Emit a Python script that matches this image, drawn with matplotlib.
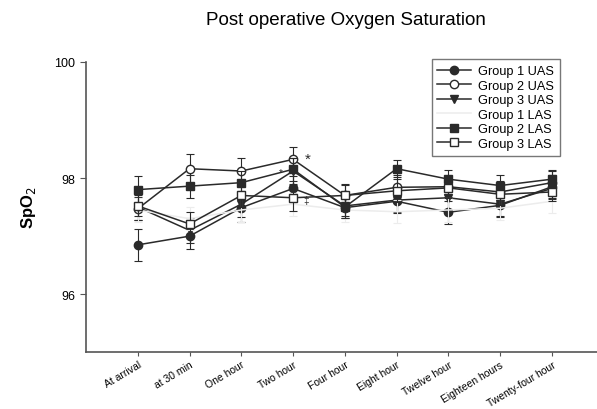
import matplotlib.pyplot as plt

# time points
labels = ['At arrival', 'at 30 min', 'One hour', 'Two hour', 'Four hour',
          'Eight hour', 'Twelve hour', 'Eighteen hours', 'Twenty-four hour']

# mean SpO2 per group
g1_uas = [96.85, 97.00, 97.49, 97.82, 97.49, 97.60, 97.41, 97.53, 97.85]
g2_uas = [97.47, 98.16, 98.12, 98.32, 97.70, 97.84, 97.85, 97.76, 97.92]
g3_uas = [97.50, 97.10, 97.55, 98.12, 97.52, 97.62, 97.66, 97.55, 97.82]
g1_las = [97.45, 97.30, 97.45, 97.55, 97.45, 97.42, 97.45, 97.48, 97.60]
g2_las = [97.80, 97.86, 97.92, 98.15, 97.50, 98.16, 97.98, 97.87, 97.98]
g3_las = [97.52, 97.21, 97.70, 97.66, 97.70, 97.78, 97.83, 97.72, 97.76]

# SD (error bars)
g1_uas_sd = [0.27, 0.22, 0.25, 0.22, 0.18, 0.20, 0.20, 0.20, 0.20]
g2_uas_sd = [0.20, 0.25, 0.22, 0.22, 0.20, 0.22, 0.18, 0.18, 0.20]
g3_uas_sd = [0.22, 0.22, 0.22, 0.22, 0.18, 0.20, 0.20, 0.20, 0.18]
g1_las_sd = [0.20, 0.20, 0.20, 0.20, 0.20, 0.20, 0.20, 0.20, 0.20]
g2_las_sd = [0.23, 0.20, 0.20, 0.20, 0.18, 0.15, 0.15, 0.18, 0.15]
g3_las_sd = [0.18, 0.20, 0.20, 0.22, 0.18, 0.20, 0.18, 0.18, 0.15]

x = list(range(1, len(labels) + 1))

plt.rcParams['font.family'] = ['Liberation Sans', 'DejaVu Sans']

fig = plt.figure(figsize=(5.97, 4.10), dpi=100)
ax = fig.add_axes([0.144, 0.138, 0.856, 0.709])

col = '#2a2a2a'
series = [
    (g1_uas, g1_uas_sd, 'Group 1 UAS', dict(marker='o', mfc=col, color=col)),
    (g2_uas, g2_uas_sd, 'Group 2 UAS', dict(marker='o', mfc='white', color=col)),
    (g3_uas, g3_uas_sd, 'Group 3 UAS', dict(marker='v', mfc=col, color=col)),
    (g1_las, g1_las_sd, 'Group 1 LAS', dict(marker='None', color='#ececec')),
    (g2_las, g2_las_sd, 'Group 2 LAS', dict(marker='s', mfc=col, color=col)),
    (g3_las, g3_las_sd, 'Group 3 LAS', dict(marker='s', mfc='white', color=col)),
]

for vals, sd, name, st in series:
    ax.errorbar(x, vals, yerr=sd, fmt='none', ecolor=st['color'],
                capsize=3, elinewidth=0.8, capthick=0.8)
    ax.plot(x, vals, label=name, lw=1.1, ms=6, mew=1.0, mec=st['color'], **st)

# significance marks
ax.text(4.22, 98.33, '*', fontsize=11, color=col, va='center')
ax.text(3.72, 98.1, '*', fontsize=7, color=col, va='center')
ax.text(4.2, 97.62, '\u2021', fontsize=7, color=col, va='center')

ax.set_xlim(0, 9.87)
ax.set_ylim(95, 100)
ax.set_yticks([96, 98, 100])
ax.set_xticks(x)
ax.set_xticklabels(labels, rotation=31, ha='right', rotation_mode='anchor',
                   fontsize=7.5)
ax.tick_params(axis='y', labelsize=9, length=4, width=0.8, color='#555555')
ax.tick_params(axis='x', length=3, width=0.8, color='#555555', pad=2)

for s in ['top', 'right']:
    ax.spines[s].set_visible(False)
for s in ['left', 'bottom']:
    ax.spines[s].set_color('#555555')
    ax.spines[s].set_linewidth(1.2)

ax.set_ylabel('SpO$_2$', fontsize=12, fontweight='bold', labelpad=12)
fig.text(0.58, 0.95, 'Post operative Oxygen Saturation', fontsize=13.5,
         ha='center', va='center')

leg = ax.legend(loc='upper right', bbox_to_anchor=(0.94, 1.03), fontsize=9.2,
                frameon=True, fancybox=False, edgecolor='#555555',
                handlelength=2.6, labelspacing=0.2, borderpad=0.45,
                handletextpad=0.6)
leg.get_frame().set_linewidth(1.0)

fig.savefig('out.png', dpi=100)
